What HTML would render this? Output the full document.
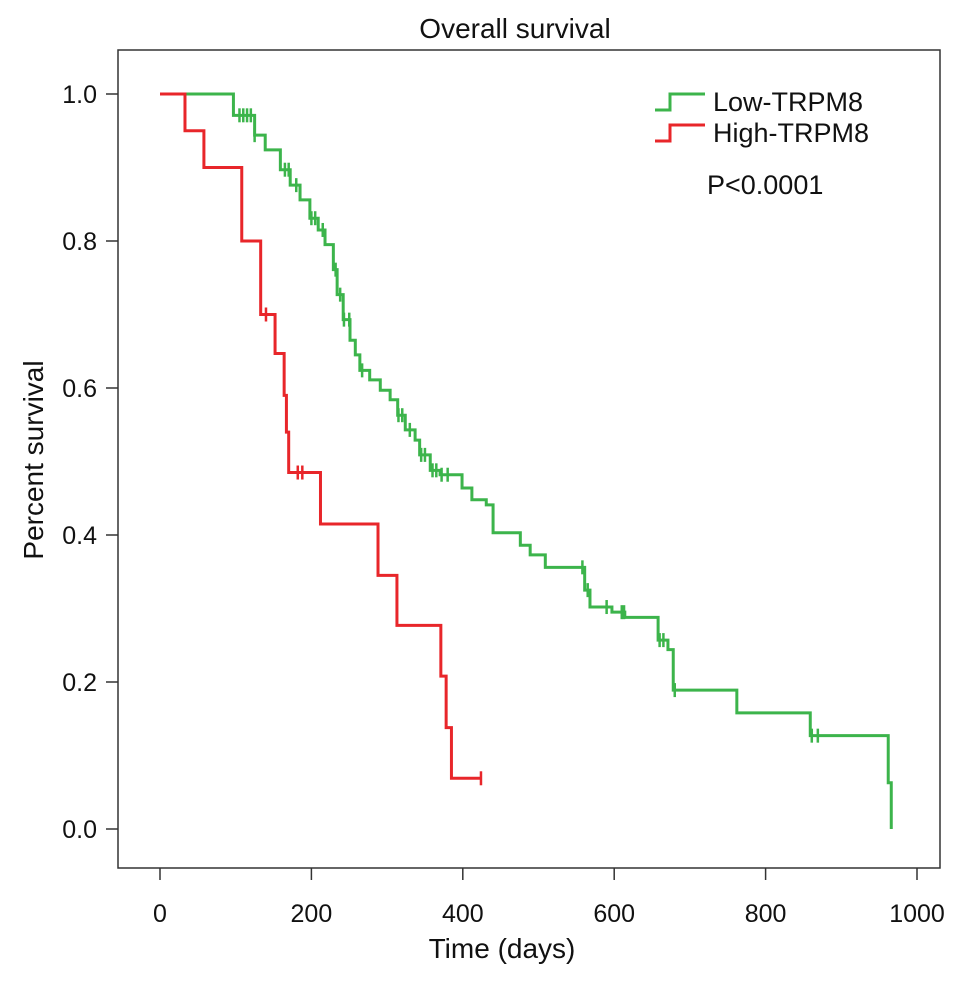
<!DOCTYPE html>
<html><head><meta charset="utf-8"><style>
body{margin:0;background:#fff;}
svg text{font-family:"Liberation Sans",sans-serif;fill:#111;}
</style></head><body>
<svg id="chart" width="969" height="982" viewBox="0 0 969 982" xmlns="http://www.w3.org/2000/svg">
<text x="515" y="38" font-size="28" text-anchor="middle">Overall survival</text>
<rect x="118" y="50" width="822" height="818" fill="none" stroke="#333" stroke-width="1.5"/>
<g id="xaxis"></g>
<g id="yaxis"></g>
<text x="502" y="958" font-size="28" text-anchor="middle">Time (days)</text>
<text transform="translate(43,460) rotate(-90)" font-size="28" text-anchor="middle">Percent survival</text>
<g id="series"></g>
<g>
<path d="M655 110 H670 V94 H705" fill="none" stroke="#3cb44b" stroke-width="3"/>
<text x="713" y="111" font-size="27">Low-TRPM8</text>
<path d="M655 141 H670 V125 H705" fill="none" stroke="#e8262a" stroke-width="3"/>
<text x="713" y="142" font-size="27">High-TRPM8</text>
</g>
<text x="707" y="194" font-size="27">P&lt;0.0001</text>
</svg>
<script>
const xTicks=[0,200,400,600,800,1000];
const yTicks=[0.0,0.2,0.4,0.6,0.8,1.0];
const lowTimes=[0,97,125,139,159,172,185,198,209,218,229,234,242,251,258,264,277,291,304,314,324,337,343,357,370,399,412,431,440,476,489,509,561,568,597,614,658,671,678,762,859,962,966];
const lowSurv=[1.0,0.971,0.944,0.924,0.897,0.876,0.856,0.831,0.815,0.795,0.761,0.727,0.693,0.665,0.645,0.624,0.611,0.597,0.584,0.563,0.543,0.529,0.509,0.488,0.482,0.464,0.448,0.441,0.403,0.386,0.373,0.356,0.325,0.302,0.295,0.288,0.257,0.244,0.189,0.158,0.127,0.063,0.0];
const lowCensor=[105,110,115,120,125,165,170,180,200,205,215,232,238,243,250,267,315,320,330,345,350,360,365,372,380,558,565,590,610,613,660,665,680,861,869];
const highTimes=[0,33,58,108,133,152,164,167,170,212,288,313,371,378,385,424];
const highSurv=[1.0,0.95,0.90,0.80,0.70,0.647,0.59,0.54,0.485,0.415,0.345,0.277,0.208,0.138,0.069,0.069];
const highCensor=[140,182,188,424];

const NS='http://www.w3.org/2000/svg';
const xs=d=>160+d*0.757;
const ys=v=>829-v*735;
function mk(tag,attrs,parent){const e=document.createElementNS(NS,tag);for(const k in attrs)e.setAttribute(k,attrs[k]);parent.appendChild(e);return e;}
const xa=document.getElementById('xaxis'),ya=document.getElementById('yaxis'),sg=document.getElementById('series');
xTicks.forEach(t=>{
  const l=mk('line',{x1:xs(t),x2:xs(t),y1:868,y2:880,stroke:'#333','stroke-width':1.5},xa);
  
  
  const tx=mk('text',{x:xs(t),y:922,'font-size':25,'text-anchor':'middle'},xa);tx.textContent=t;
  
  
});
yTicks.forEach(t=>{
  const l=mk('line',{x1:106,x2:118,y1:ys(t),y2:ys(t),stroke:'#333','stroke-width':1.5},ya);
  
  
  const tx=mk('text',{x:97,y:ys(t)+9,'font-size':25,'text-anchor':'end'},ya);tx.textContent=t.toFixed(1);
  
  
});
function survAt(times,surv,t){let v=surv[0];for(let i=0;i<times.length;i++){if(times[i]<=t)v=surv[i];}return v;}
function drawSeries(times,surv,cens,color,name){
  let d='M'+xs(times[0])+' '+ys(surv[0]);
  for(let i=1;i<times.length;i++){d+=' H'+xs(times[i])+' V'+ys(surv[i]);}
  const p=mk('path',{d:d,fill:'none',stroke:color,'stroke-width':3},sg);
  
  
  cens.forEach(c=>{
    const x=xs(c),y=ys(survAt(times,surv,c));
    const m=mk('path',{d:`M${x} ${y-7} V${y+7}`,stroke:color,'stroke-width':2.5},sg);
    
    
  });
}
drawSeries(lowTimes,lowSurv,lowCensor,'#3cb44b','low-trpm8');
drawSeries(highTimes,highSurv,highCensor,'#e8262a','high-trpm8');
</script>
</body></html>
